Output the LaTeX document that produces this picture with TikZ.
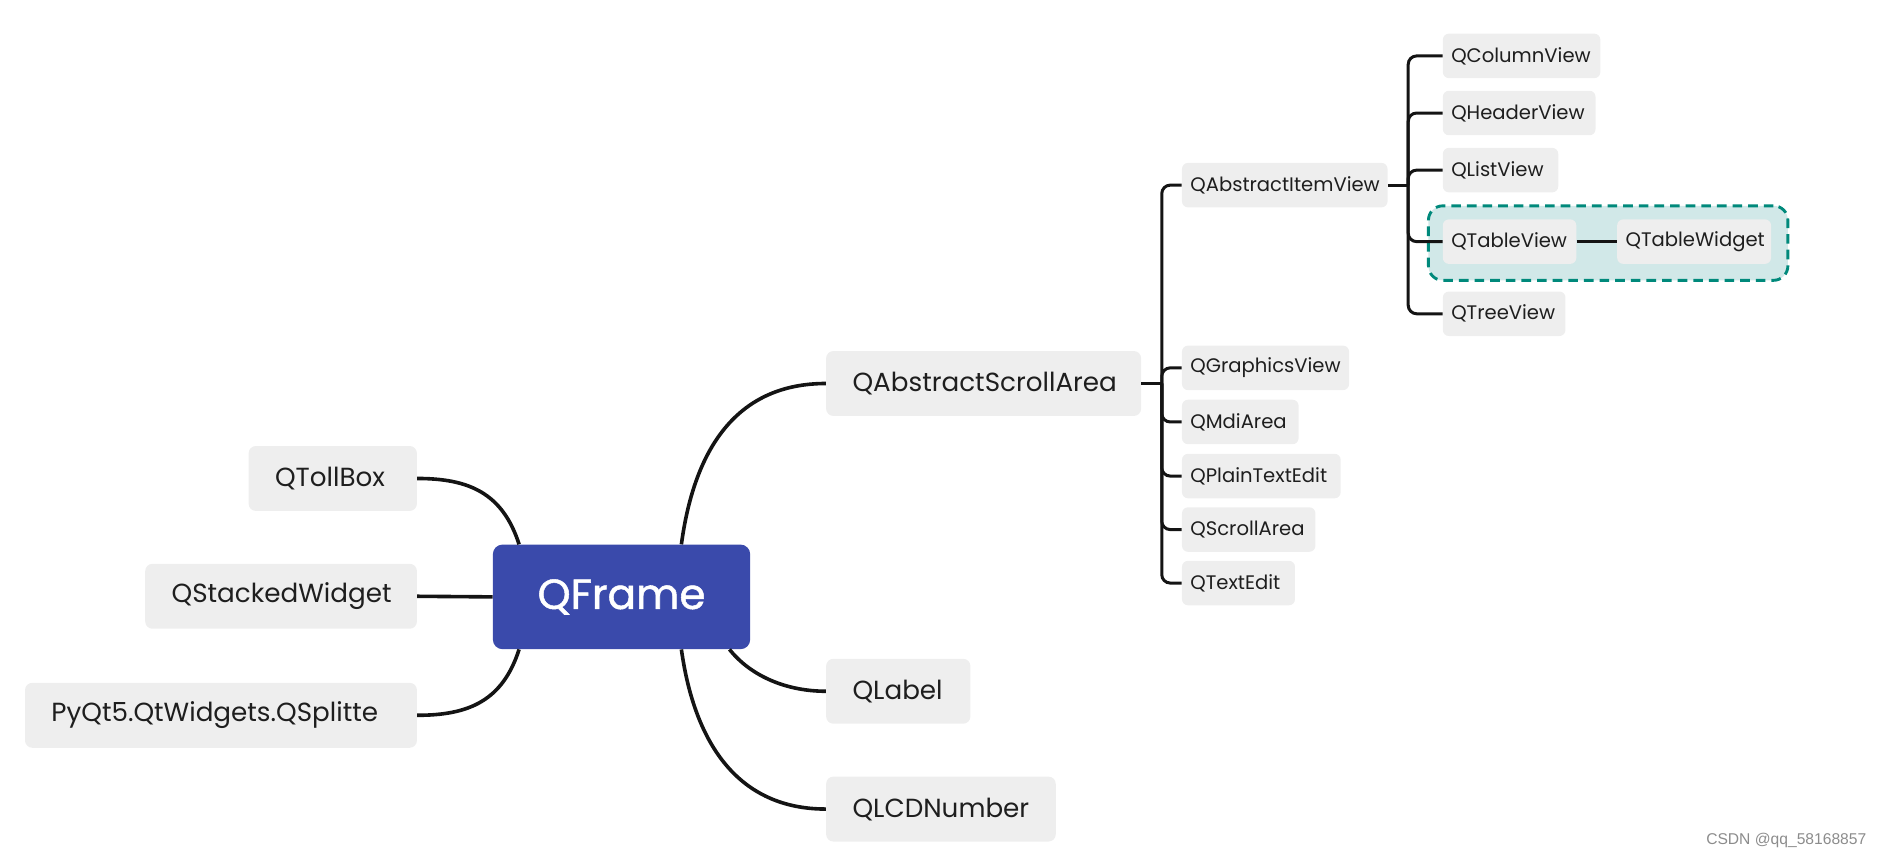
\documentclass[tikz,border=0pt]{standalone}
\usepackage{fontspec}
\setmainfont{Poppins}
\newfontfamily\qfont[FakeBold=1.2]{Poppins}
\newfontfamily\wmfont{Liberation Sans}
\usetikzlibrary{calc}
\definecolor{nodegray}{HTML}{EEEEEE}
\definecolor{qblue}{HTML}{3A4AAB}
\definecolor{tealfill}{HTML}{D1E8E8}
\definecolor{tealline}{HTML}{00897B}
\definecolor{linec}{HTML}{141414}
\definecolor{txt}{HTML}{1E1E1E}
\begin{document}
\begin{tikzpicture}[x=1pt,y=-1pt,
  box/.style={fill=nodegray, rounded corners=6pt, inner ysep=0pt, inner xsep=22pt, text=txt,
    font=\fontsize{21.8}{26}\selectfont, minimum height=54pt, align=left},
  sbox/.style={fill=nodegray, rounded corners=5pt, inner ysep=0pt, inner xsep=7pt, text=txt,
    font=\fontsize{16.3}{20}\selectfont, minimum height=37pt, align=left},
  conn/.style={draw=linec, line width=3pt},
  sconn/.style={draw=linec, line width=2.5pt, rounded corners=7pt},
]
\useasboundingbox (0,0) rectangle (1568,715);
% teal group
\node[draw=tealline, fill=tealfill, line width=2.4pt, dash pattern=on 8pt off 5pt,
  rounded corners=12pt, minimum width=299pt, minimum height=62pt, anchor=north west, inner sep=0pt]
  (grp) at (1187,170) {};
% central
\node[fill=qblue, rounded corners=8pt, minimum width=214pt, minimum height=87pt, inner sep=0pt,
  text=white, font=\qfont\fontsize{35}{40}\selectfont] (qf) at (517,496.5) {QFrame};
% left
\node[box, anchor=east, text width=96pt] (tb) at (347,398) {QTollBox};
\node[box, anchor=east, text width=182pt] (sw) at (347,496) {QStackedWidget};
\node[box, anchor=east, text width=282pt] (sp) at (347,595) {PyQt5.QtWidgets.QSplitte};
% right
\node[box, anchor=west, text width=218pt] (asa) at (687,319) {QAbstractScrollArea};
\node[box, anchor=west, text width=76pt] (lab) at (687,575) {QLabel};
\node[box, anchor=west, text width=147pt] (lcd) at (687,673) {QLCDNumber};
% level 2
\node[sbox, anchor=west, text width=157pt] (aiv) at (983,154) {QAbstractItemView};
\node[sbox, anchor=west, text width=125pt] (gv) at (983,306) {QGraphicsView};
\node[sbox, anchor=west, text width=83pt] (mdi) at (983,351) {QMdiArea};
\node[sbox, anchor=west, text width=118pt] (pte) at (983,396) {QPlainTextEdit};
\node[sbox, anchor=west, text width=97pt] (sa) at (983,440.5) {QScrollArea};
\node[sbox, anchor=west, text width=80pt] (te) at (983,485) {QTextEdit};
% level 3
\node[sbox, anchor=west, text width=117pt] (cv) at (1200,46.5) {QColumnView};
\node[sbox, anchor=west, text width=113pt] (hv) at (1200,94) {QHeaderView};
\node[sbox, anchor=west, text width=82pt] (lv) at (1200,141.5) {QListView};
\node[sbox, anchor=west, text width=97pt] (tv) at (1200,201) {QTableView};
\node[sbox, anchor=west, text width=114pt] (tw) at (1345,201) {QTableWidget};
\node[sbox, anchor=west, text width=88pt] (trv) at (1200,261) {QTreeView};
% connectors from QFrame
\draw[conn] ($(qf.north west)+(22,0)$) .. controls (418,410) and (390,398) .. (tb.east);
\draw[conn] (qf.west) -- (sw.east);
\draw[conn] ($(qf.south west)+(22,0)$) .. controls (418,583) and (390,595) .. (sp.east);
\draw[conn] ($(qf.north west)+(157,0)$) .. controls (578,370) and (615,319) .. (asa.west);
\draw[conn] ($(qf.south west)+(197,0)$) .. controls (625,563) and (655,575) .. (lab.west);
\draw[conn] ($(qf.south west)+(157,0)$) .. controls (578,620) and (615,673) .. (lcd.west);
% spine of QAbstractScrollArea
\coordinate (s1) at ($(asa.east)+(17,0)$);
\draw[conn] (asa.east) -- (s1);
\foreach \c in {aiv,gv,mdi,pte,sa,te}{\draw[sconn] (s1) |- (\c.west);}
% spine of QAbstractItemView
\coordinate (s2) at ($(aiv.east)+(17,0)$);
\draw[sconn] (aiv.east) -- (s2);
\foreach \c in {cv,hv,lv,tv,trv}{\draw[sconn] (s2) |- (\c.west);}
\draw[sconn] (tv.east) -- (tw.west);
% watermark
\node[anchor=east, text=black!45, font=\wmfont\fontsize{13}{15}\selectfont] (wm) at (1556,699) {CSDN @qq\_58168857};
\end{tikzpicture}
\end{document}
